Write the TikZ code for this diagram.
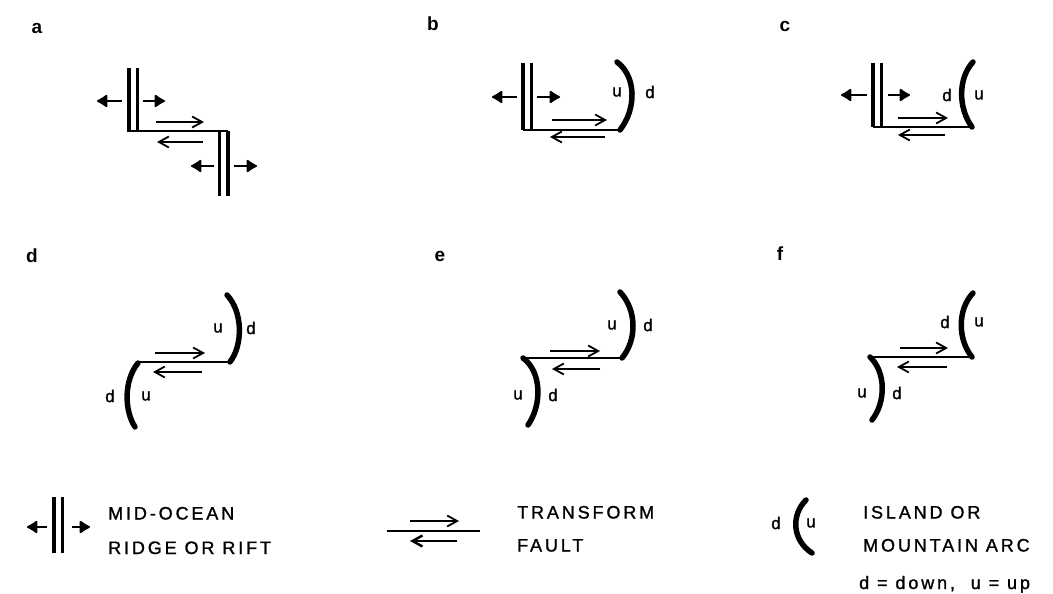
\documentclass[tikz,border=0pt]{standalone}
\usepackage{fontspec}
\setmainfont{Liberation Sans}
\newfontfamily\lett[LetterSpace=16,FakeBold=1.2]{Liberation Sans}
\newfontfamily\udfont[FakeBold=1.2]{Liberation Sans}
\usetikzlibrary{arrows.meta}
\tikzset{
  ridgeline/.style={line width=3.6pt},
  faultline/.style={line width=1.8pt},
  arcline/.style={line width=5.5pt, line cap=round},
  spread/.style={line width=2pt, -{Latex[round,length=12pt,width=15pt]}},
  slip/.style={line width=1.8pt, -{Straight Barb[length=10pt,width=11pt]}},
  ud/.style={inner sep=0pt, font=\fontsize{17}{17}\selectfont\udfont},
  panel/.style={inner sep=0pt, font=\fontsize{19}{19}\selectfont\bfseries},
  legend/.style={inner sep=0pt, anchor=base west, font=\fontsize{18}{18}\selectfont\lett}
}
\newcommand{\ridgepair}[3]{%
  \draw[ridgeline] (#1,#2) -- (#1,#3);
  \draw[ridgeline] ({#1+8.5},#2) -- ({#1+8.5},#3);}
\begin{document}
\begin{tikzpicture}[x=1pt,y=-1pt]
\useasboundingbox (0,0) rectangle (1053,594);
% panel labels
\node[panel] (la) at (37,28) {a};
\node[panel] (lb) at (433,24) {b};
\node[panel] (lc) at (785,26) {c};
\node[panel] (ld) at (32,256) {d};
\node[panel] (le) at (440,256) {e};
\node[panel] (lf) at (780,254) {f};

% ---- panel a
\ridgepair{129}{68}{132}
\draw[faultline] (129,131) -- (228,131);
\ridgepair{219.5}{131}{196}
\coordinate (a1) at (122,101); \coordinate (a1e) at (97,101);
\coordinate (a2) at (143,101); \coordinate (a2e) at (165,101);
\coordinate (a3) at (214,166); \coordinate (a3e) at (191,166);
\coordinate (a4) at (234,166); \coordinate (a4e) at (257,166);
\draw[spread] (a1) -- (a1e);
\draw[spread] (a2) -- (a2e);
\draw[spread] (a3) -- (a3e);
\draw[spread] (a4) -- (a4e);
\coordinate (as1) at (156,122); \coordinate (as1e) at (204,122);
\coordinate (as2) at (203,142); \coordinate (as2e) at (157,142);
\draw[slip] (as1) -- (as1e);
\draw[slip] (as2) -- (as2e);

% ---- panel b
\ridgepair{523}{63}{130}
\draw[faultline] (523,130) -- (620,130);
\draw[arcline] (620,130) .. controls (637,108) and (636,76) .. (617,62);
\node[ud] (bu) at (617,92) {u};
\node[ud] (bd) at (650,92) {d};
\coordinate (b1) at (517,97); \coordinate (b1e) at (492,97);
\coordinate (b2) at (537,97); \coordinate (b2e) at (560,97);
\draw[spread] (b1) -- (b1e);
\draw[spread] (b2) -- (b2e);
\coordinate (bs1) at (552,120); \coordinate (bs1e) at (607,120);
\coordinate (bs2) at (605,137); \coordinate (bs2e) at (550,137);
\draw[slip] (bs1) -- (bs1e);
\draw[slip] (bs2) -- (bs2e);

% ---- panel c
\ridgepair{873}{63}{127}
\draw[faultline] (873,127) -- (972,127);
\draw[arcline] (972,127) .. controls (958,108) and (958,78) .. (973,62);
\node[ud] (cd) at (947,95) {d};
\node[ud] (cu) at (979,95) {u};
\coordinate (c1) at (867,95); \coordinate (c1e) at (841,95);
\coordinate (c2) at (888,95); \coordinate (c2e) at (910,95);
\draw[spread] (c1) -- (c1e);
\draw[spread] (c2) -- (c2e);
\coordinate (cs1) at (898,118); \coordinate (cs1e) at (948,118);
\coordinate (cs2) at (945,135); \coordinate (cs2e) at (898,135);
\draw[slip] (cs1) -- (cs1e);
\draw[slip] (cs2) -- (cs2e);

% ---- panel d
\draw[arcline] (227,295) .. controls (243,312) and (243,345) .. (230,362);
\draw[faultline] (140,362) -- (230,362);
\draw[arcline] (138,363) .. controls (124,380) and (124,410) .. (135,427);
\node[ud] (du1) at (218,328) {u};
\node[ud] (dd1) at (251,328) {d};
\node[ud] (dd2) at (110,396) {d};
\node[ud] (du2) at (146,396) {u};
\coordinate (ds1) at (155,353); \coordinate (ds1e) at (205,353);
\coordinate (ds2) at (202,372); \coordinate (ds2e) at (153,372);
\draw[slip] (ds1) -- (ds1e);
\draw[slip] (ds2) -- (ds2e);

% ---- panel e
\draw[arcline] (620,292) .. controls (637,310) and (637,340) .. (622,358);
\draw[faultline] (523,358) -- (622,358);
\draw[arcline] (523,358) .. controls (542,372) and (542,405) .. (528,425);
\node[ud] (eu1) at (612,325) {u};
\node[ud] (ed1) at (648,325) {d};
\node[ud] (eu2) at (518,395) {u};
\node[ud] (ed2) at (553,395) {d};
\coordinate (es1) at (550,351); \coordinate (es1e) at (600,351);
\coordinate (es2) at (600,369); \coordinate (es2e) at (552,369);
\draw[slip] (es1) -- (es1e);
\draw[slip] (es2) -- (es2e);

% ---- panel f
\draw[arcline] (973,293) .. controls (957,310) and (958,340) .. (972,357);
\draw[faultline] (870,357) -- (972,357);
\draw[arcline] (870,357) .. controls (886,372) and (886,402) .. (872,420);
\node[ud] (fd1) at (945,322) {d};
\node[ud] (fu1) at (979,322) {u};
\node[ud] (fu2) at (862,393) {u};
\node[ud] (fd2) at (897,393) {d};
\coordinate (fs1) at (900,348); \coordinate (fs1e) at (948,348);
\coordinate (fs2) at (947,367); \coordinate (fs2e) at (897,367);
\draw[slip] (fs1) -- (fs1e);
\draw[slip] (fs2) -- (fs2e);

% ---- legend: ridge
\ridgepair{54}{497}{553}
\coordinate (g1) at (47,527); \coordinate (g1e) at (27,527);
\coordinate (g2) at (72,527); \coordinate (g2e) at (90,527);
\draw[spread] (g1) -- (g1e);
\draw[spread] (g2) -- (g2e);
\node[legend] (t1) at (108,519.5) {MID-OCEAN};
\node[legend] (t2) at (108,554) {RIDGE OR RIFT};

% ---- legend: transform
\coordinate (gs1) at (410,521); \coordinate (gs1e) at (459,521);
\coordinate (gs2) at (457,541); \coordinate (gs2e) at (410,541);
\draw[slip] (gs1) -- (gs1e);
\draw[line width=1.2pt] (387,531) -- (480,531);
\draw[slip, line width=2.4pt] (gs2) -- (gs2e);
\node[legend] (t3) at (517,518.5) {TRANSFORM};
\node[legend] (t4) at (517,551.5) {FAULT};

% ---- legend: arc
\draw[arcline] (806,500) .. controls (791,515) and (792,540) .. (812,553);
\node[ud] (gd) at (776,523) {d};
\node[ud] (gu) at (811,523) {u};
\node[legend] (t5) at (863,518.5) {ISLAND OR};
\node[legend] (t6) at (863,551.5) {MOUNTAIN ARC};
\node[legend] (t7) at (859,589) {d = down,\ \ u = up};
\end{tikzpicture}
\end{document}
